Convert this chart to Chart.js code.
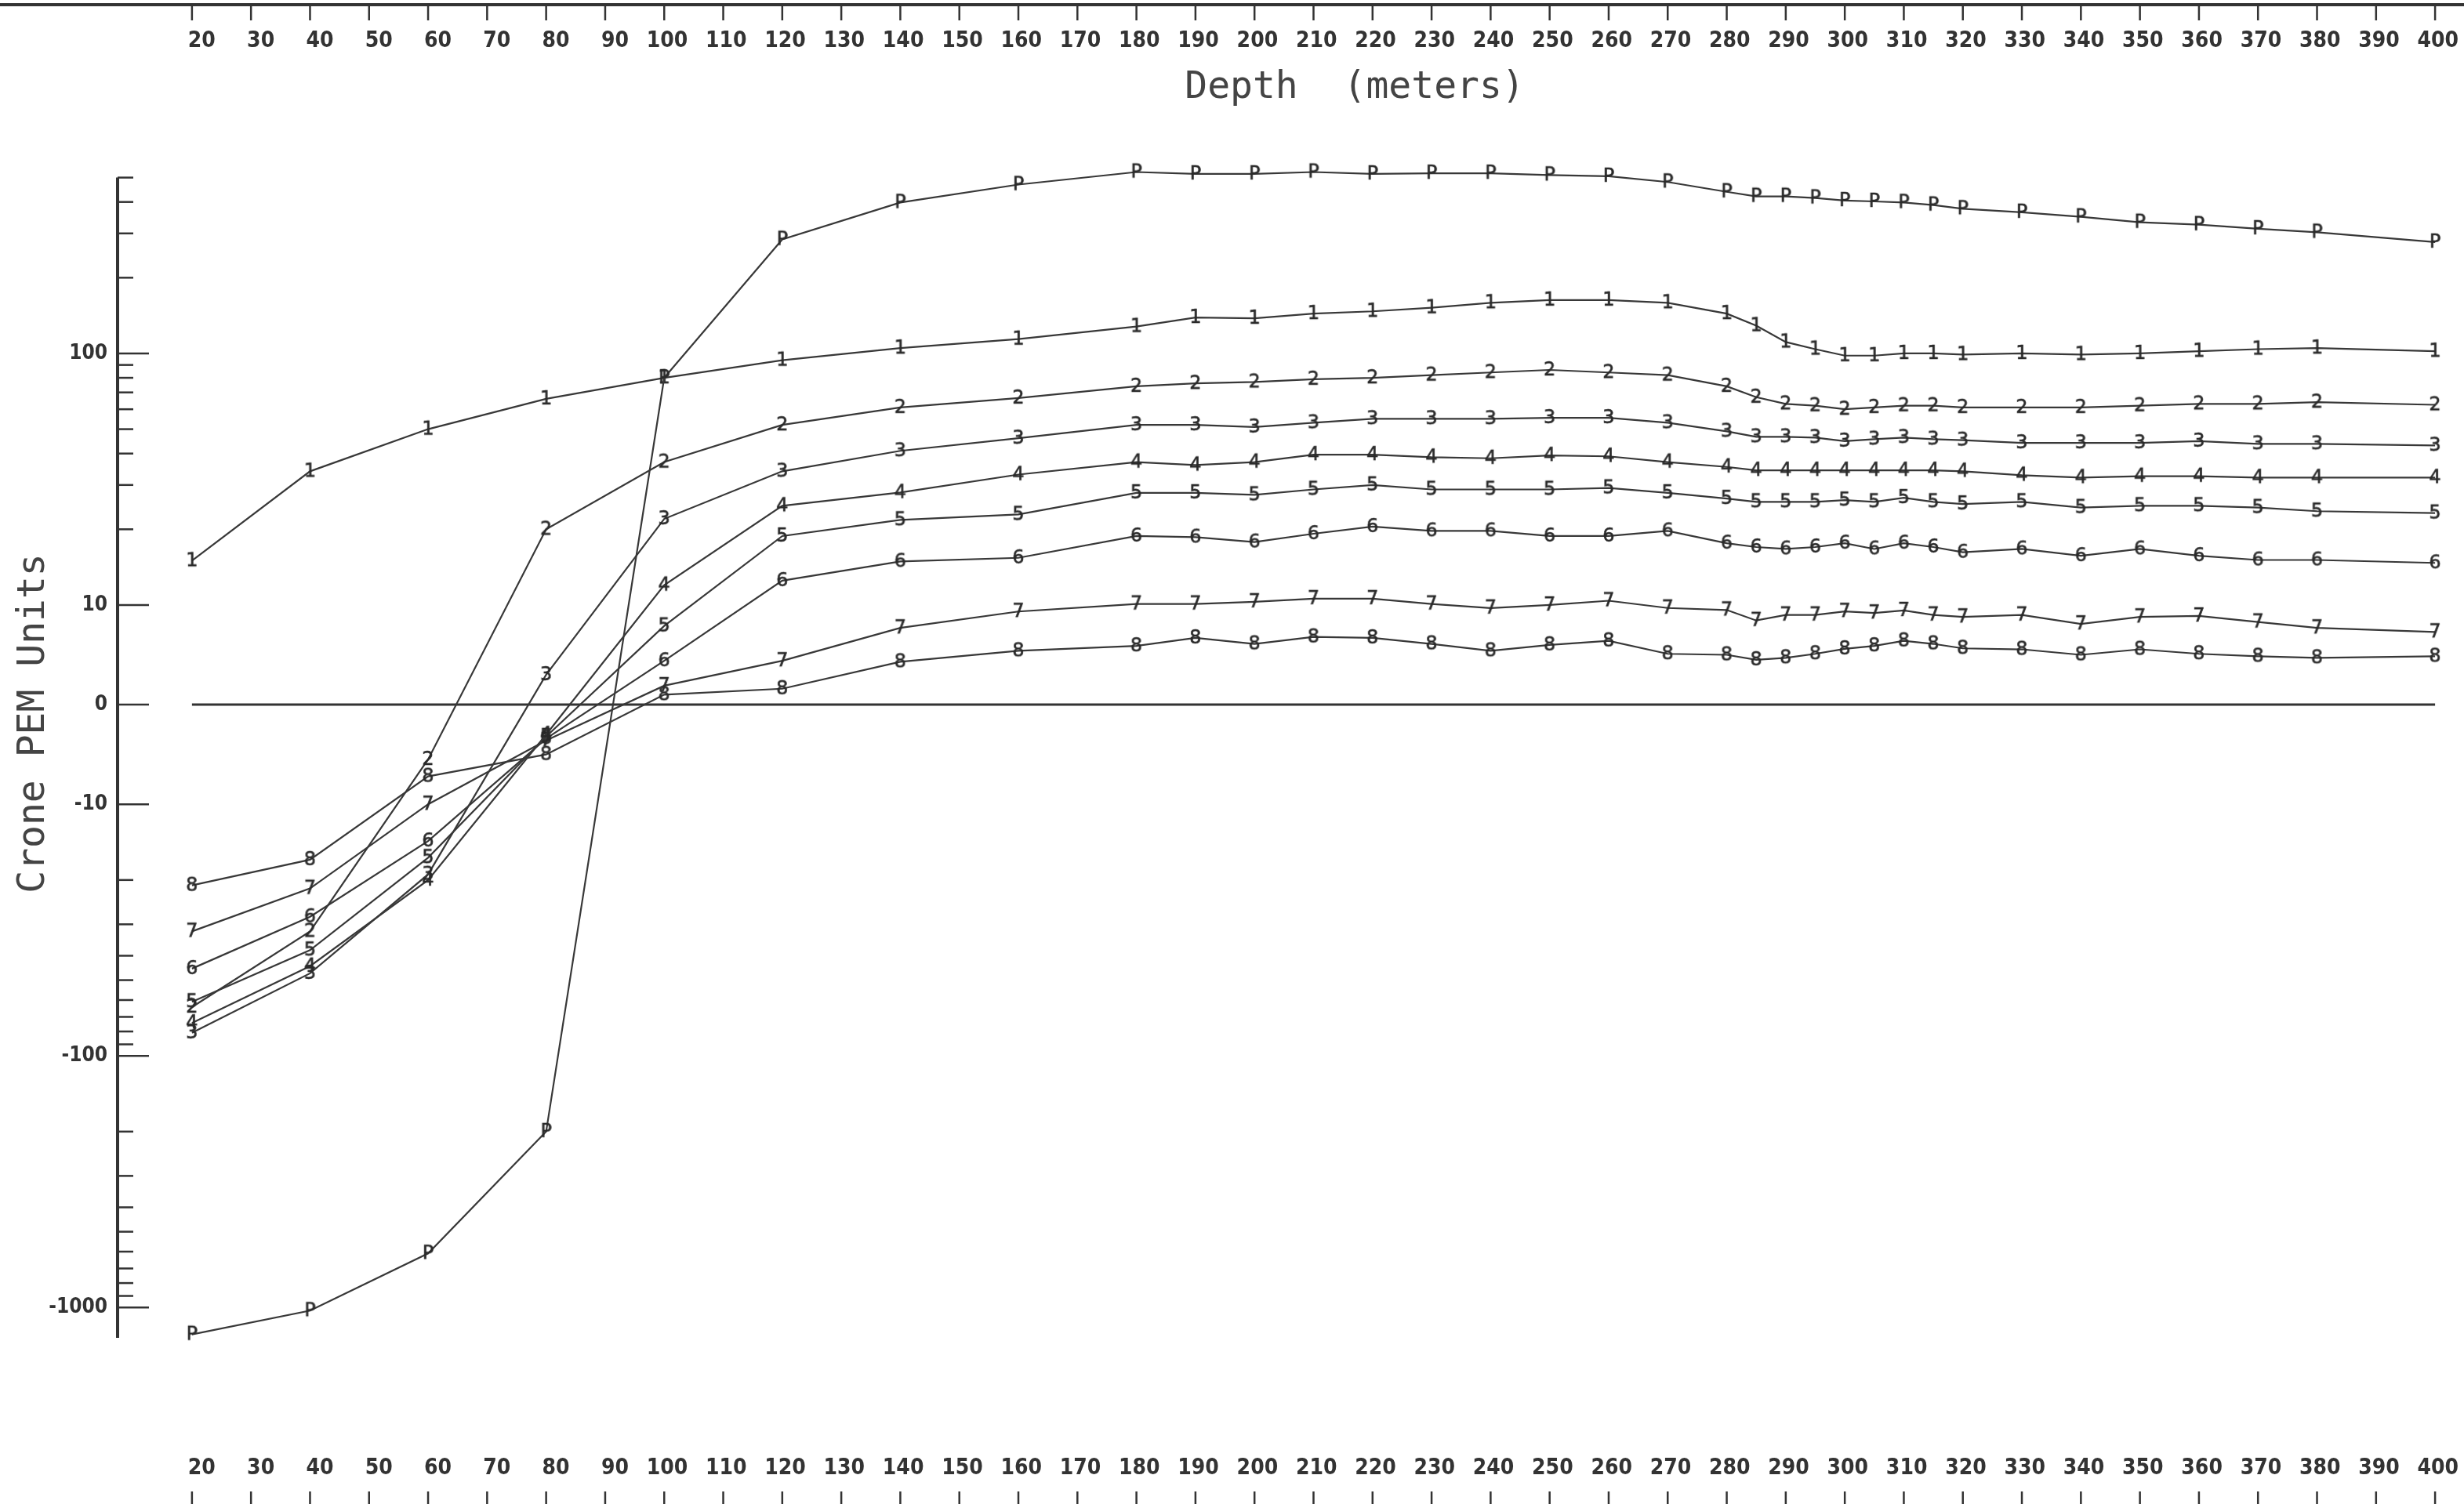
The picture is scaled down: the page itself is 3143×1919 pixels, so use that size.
<!DOCTYPE html>
<html>
<head>
<meta charset="utf-8">
<script src="https://cdn.jsdelivr.net/npm/chart.js@4.4.1/dist/chart.umd.min.js"></script>
<style>
  html, body { margin: 0; padding: 0; background: #fff; }
  #wrap { width: 3143px; height: 1919px; position: relative; }
</style>
</head>
<body>
<div id="wrap"><canvas id="chart"></canvas></div>
<script>
// ---- data ----
const depths = [20,40,60,80,100,120,140,160,180,190,200,210,220,230,240,250,260,270,280,285,290,295,300,305,310,315,320,330,340,350,360,370,380,400];

const seriesP = [-1280,-1030,-610,-200,80,284,398,469,526,517,517,526,517,520,520,512,506,480,439,421,421,415,405,402,398,389,376,364,349,332,325,313,303,277];
const series1 = [15,34,50,66,80,94,105,114,128,139,138,144,147,152,159,163,163,159,144,129,111,104,98,98,100,100,99,100,99,100,102,104,105,102];
const series2 = [-64,-32,-5.5,20,37,52,61,66.5,74,76,77,79,80,82,84,86,84,82,74,67,63,62,60,61,62,62,61,61,61,62,63,63,64,62.5];
const series3 = [-81,-47,-19,3,22,34,41,46,52,52,51,53,55,55,55,55.5,55.5,53,49,46.6,46.6,46.3,44.8,45.6,46.3,45.6,45.2,44.1,44.1,44.1,44.8,43.7,43.7,43.1];
const series4 = [-74,-44,-20,-3,12,24.8,28,33,37,36,37,39.6,39.6,38.7,38.3,39.3,39,37,35.4,34.3,34.3,34.3,34.3,34.3,34.3,34.3,34,32.8,32.1,32.5,32.5,32.1,32.1,32.1];
const series5 = [-61,-38,-16.3,-3.2,7.9,18.8,21.8,22.9,27.9,27.9,27.4,28.8,30,28.8,28.8,28.8,29.2,27.9,26.5,25.7,25.7,25.7,26.1,25.7,26.7,25.7,25.2,25.7,24.4,24.8,24.8,24.4,23.6,23.2];
const series6 = [-45,-28,-14,-3.4,4.4,12.5,14.9,15.4,18.8,18.6,17.8,19.2,20.5,19.7,19.7,18.8,18.8,19.7,17.6,17,16.7,17,17.6,16.7,17.6,17,16.2,16.7,15.7,16.7,15.7,15.1,15.1,14.7];
const series7 = [-32,-21.6,-10,-3.6,1.9,4.4,7.7,9.35,10.1,10.1,10.3,10.6,10.6,10.1,9.7,10,10.4,9.7,9.5,8.45,9,9,9.35,9.2,9.45,9,8.8,9,8.1,8.8,8.9,8.3,7.7,7.3];
const series8 = [-21,-16.6,-7.2,-5,1,1.6,4.3,5.4,5.9,6.7,6.1,6.8,6.7,6.1,5.4,6,6.4,5.1,5,4.5,4.7,5.1,5.6,5.9,6.4,6.1,5.65,5.55,5,5.55,5.1,4.85,4.7,4.85];

const depthTicks = [20,30,40,50,60,70,80,90,100,110,120,130,140,150,160,170,180,190,200,210,220,230,240,250,260,270,280,290,300,310,320,330,340,350,360,370,380,390,400];
const majorTicks = [-1000,-100,-10,0,10,100];
const minorTicks = [-900,-800,-700,-600,-500,-400,-300,-200,-90,-80,-70,-60,-50,-40,-30,-20,20,30,40,50,60,70,80,90,200,300,400,500];
const yAxisTop = 500, yAxisBottom = -1320;

const tickFont = '"Liberation Sans Narrow", "DejaVu Sans Condensed", sans-serif';

// ============= Crone style axis: log beyond +-10, linear inside =============
const LIN = 0.396;   // decades taken by the 0..10 band
function pem(v) {
  const a = Math.abs(v);
  return a <= 10 ? v / 10 * LIN : Math.sign(v) * (LIN + Math.log10(a / 10));
}
function pemInv(t) {
  const a = Math.abs(t);
  return a <= LIN ? t / LIN * 10 : Math.sign(t) * 10 * Math.pow(10, a - LIN);
}

class PemScale extends Chart.LinearScale {
  buildTicks() {
    this.start = this.min; this.end = this.max;
    return majorTicks.concat(minorTicks).sort((a, b) => a - b).map(v => ({ value: v }));
  }
  configure() {
    super.configure();
    this._tStart = pem(this.min);
    this._tRange = pem(this.max) - this._tStart;
  }
  getPixelForValue(v) { return this.getPixelForDecimal((pem(v) - this._tStart) / this._tRange); }
  getValueForPixel(p) { return pemInv(this._tStart + this.getDecimalForPixel(p) * this._tRange); }
}
PemScale.id = 'pem';
PemScale.defaults = {};
Chart.register(PemScale);

// plotter style point glyphs
function glyph(ch) {
  const c = document.createElement('canvas');
  c.width = 30; c.height = 30;
  const g = c.getContext('2d');
  g.font = '24px "DejaVu Sans"';
  g.fillStyle = '#2a2a2a';
  g.strokeStyle = '#2a2a2a';
  g.lineWidth = 0.6;
  g.textAlign = 'center';
  g.textBaseline = 'middle';
  g.fillText(ch, 15, 16);
  g.strokeText(ch, 15, 16);
  return c;
}

const seriesList = [['P', seriesP], ['1', series1], ['2', series2], ['3', series3], ['4', series4],
                    ['5', series5], ['6', series6], ['7', series7], ['8', series8]];

const datasets = seriesList.map(([ch, vals]) => ({
  label: ch,
  data: vals.map((v, i) => ({ x: depths[i], y: v })),
  borderColor: '#383838',
  borderWidth: 2.2,
  pointStyle: glyph(ch),
  pointRadius: 4,
  tension: 0
}));
datasets.push({
  label: 'zero',
  data: [{ x: depths[0], y: 0 }, { x: depths[depths.length - 1], y: 0 }],
  borderColor: '#333',
  borderWidth: 3,
  pointRadius: 0
});

// ============= axes drawn the plotter way (ticks pointing inward) =============
const penAxes = {
  id: 'penAxes',
  afterDraw(chart) {
    const { ctx } = chart;
    const xs = chart.scales.x, ys = chart.scales.y;
    const seg = (x1, y1, x2, y2) => { ctx.beginPath(); ctx.moveTo(x1, y1); ctx.lineTo(x2, y2); ctx.stroke(); };
    ctx.save();
    ctx.strokeStyle = '#333';
    ctx.fillStyle = '#333';

    // top frame line
    ctx.lineWidth = 4;
    seg(0, 6, chart.width, 6);

    // depth ticks top and bottom
    ctx.lineWidth = 2.5;
    depthTicks.forEach(v => {
      const px = xs.getPixelForValue(v);
      seg(px, 6, px, 26);
      seg(px, 1903, px, 1919);
    });
    ctx.font = 'bold 28px ' + tickFont;
    ctx.textAlign = 'right';
    ctx.textBaseline = 'middle';
    depthTicks.forEach(v => {
      const px = xs.getPixelForValue(v) + 30;
      ctx.fillText(String(v), px, 53);
      ctx.fillText(String(v), px, 1874);
    });

    ctx.font = '48px "DejaVu Sans Mono"';
    ctx.fillStyle = '#444';
    ctx.textAlign = 'center';
    ctx.fillText('Depth  (meters)', 1728, 113);

    // vertical axis with inward ticks
    const ax = chart.chartArea.left;
    ctx.lineWidth = 4;
    seg(ax, ys.getPixelForValue(yAxisTop), ax, ys.getPixelForValue(yAxisBottom));
    ctx.lineWidth = 2.5;
    ys.ticks.forEach(t => {
      const py = ys.getPixelForValue(t.value);
      seg(ax, py, ax + (majorTicks.includes(t.value) ? 40 : 20), py);
    });
    ctx.restore();
  }
};

new Chart(document.getElementById('chart'), {
  type: 'line',
  data: { datasets },
  options: {
    responsive: true,
    maintainAspectRatio: false,
    animation: false,
    layout: { padding: { top: 0, left: 0, right: 0, bottom: 73 }, autoPadding: false },
    plugins: { legend: { display: false }, tooltip: { enabled: false } },
    scales: {
      x: { type: 'linear', min: 7.4, max: 404.9, display: false },
      y: {
        type: 'pem',
        position: 'left',
        min: -3580,
        max: 2540,
        border: { display: false },
        grid: { display: false, drawTicks: false },
        ticks: {
          autoSkip: false,
          padding: 13,
          color: '#333',
          font: { family: tickFont, size: 26, weight: 'bold' },
          callback: v => majorTicks.includes(v) ? String(v) : ''
        },
        title: {
          display: true,
          text: 'Crone PEM Units',
          color: '#444',
          font: { family: 'DejaVu Sans Mono', size: 48 },
          padding: { top: 15, bottom: 0 }
        },
        afterFit(s) { s.width = 150; s.paddingTop = 0; s.paddingBottom = 0; }
      }
    }
  },
  plugins: [penAxes]
});
</script>
</body>
</html>
